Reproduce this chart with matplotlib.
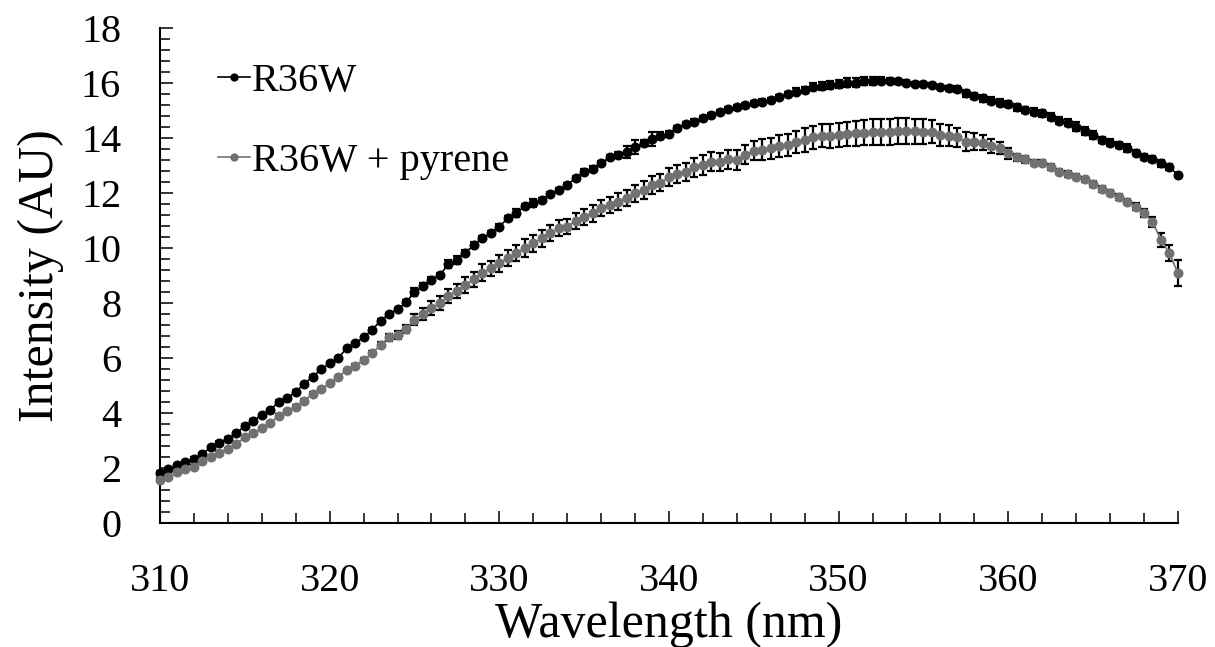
import numpy as np
import matplotlib
matplotlib.use("Agg")
import matplotlib.pyplot as plt
from matplotlib.ticker import MultipleLocator

plt.rcParams['font.family'] = ['Liberation Serif', 'DejaVu Serif']

# emission scan, 310-370 nm in 0.5 nm steps
wavelength = np.arange(310.0, 370.5, 0.5)

r36w = [
    1.83, 1.95, 2.10, 2.22, 2.34, 2.51, 2.76, 2.92, 3.07, 3.26,
    3.54, 3.72, 3.93, 4.11, 4.42, 4.54, 4.78, 5.06, 5.33, 5.59,
    5.81, 6.00, 6.36, 6.54, 6.76, 7.03, 7.36, 7.61, 7.78, 8.03,
    8.40, 8.63, 8.85, 9.02, 9.43, 9.57, 9.84, 10.12, 10.36, 10.55,
    10.79, 11.09, 11.27, 11.54, 11.64, 11.76, 11.98, 12.12, 12.30, 12.56,
    12.79, 12.90, 13.09, 13.31, 13.40, 13.52, 13.68, 13.84, 13.97, 14.10,
    14.16, 14.37, 14.52, 14.61, 14.73, 14.85, 14.97, 15.06, 15.13, 15.22,
    15.28, 15.34, 15.40, 15.50, 15.62, 15.70, 15.76, 15.88, 15.91, 15.94,
    15.98, 16.03, 16.03, 16.10, 16.10, 16.10, 16.10, 16.07, 16.03, 15.98,
    15.98, 15.94, 15.88, 15.82, 15.79, 15.64, 15.54, 15.46, 15.37, 15.30,
    15.25, 15.13, 15.03, 14.97, 14.91, 14.79, 14.65, 14.57, 14.43, 14.28,
    14.12, 13.94, 13.84, 13.76, 13.64, 13.48, 13.33, 13.24, 13.09, 12.95,
    12.67,
]
r36w_err = [
    0.05, 0.05, 0.05, 0.05, 0.05, 0.05, 0.05, 0.05, 0.05, 0.05,
    0.05, 0.05, 0.05, 0.05, 0.05, 0.05, 0.05, 0.05, 0.05, 0.05,
    0.05, 0.05, 0.05, 0.05, 0.05, 0.05, 0.05, 0.05, 0.05, 0.08,
    0.15, 0.10, 0.10, 0.08, 0.15, 0.15, 0.10, 0.10, 0.08, 0.08,
    0.08, 0.08, 0.15, 0.08, 0.15, 0.08, 0.08, 0.08, 0.08, 0.08,
    0.08, 0.08, 0.08, 0.08, 0.12, 0.22, 0.25, 0.10, 0.25, 0.12,
    0.10, 0.08, 0.08, 0.08, 0.08, 0.08, 0.08, 0.08, 0.08, 0.08,
    0.08, 0.08, 0.08, 0.08, 0.08, 0.12, 0.12, 0.12, 0.15, 0.15,
    0.15, 0.15, 0.15, 0.15, 0.15, 0.12, 0.10, 0.08, 0.08, 0.08,
    0.08, 0.08, 0.08, 0.08, 0.12, 0.12, 0.12, 0.12, 0.12, 0.12,
    0.10, 0.12, 0.12, 0.12, 0.12, 0.12, 0.12, 0.12, 0.15, 0.15,
    0.15, 0.10, 0.12, 0.12, 0.15, 0.10, 0.10, 0.10, 0.12, 0.10,
    0.08,
]

r36w_pyrene = [
    1.57, 1.66, 1.86, 1.95, 2.05, 2.25, 2.39, 2.56, 2.68, 2.88,
    3.12, 3.26, 3.45, 3.63, 3.91, 4.08, 4.23, 4.45, 4.70, 4.87,
    5.09, 5.30, 5.57, 5.72, 5.93, 6.18, 6.48, 6.76, 6.84, 7.07,
    7.39, 7.61, 7.82, 8.00, 8.26, 8.45, 8.66, 8.87, 9.11, 9.27,
    9.45, 9.64, 9.82, 10.00, 10.18, 10.36, 10.55, 10.73, 10.79, 11.00,
    11.13, 11.27, 11.46, 11.58, 11.70, 11.82, 12.00, 12.12, 12.30, 12.39,
    12.58, 12.70, 12.79, 12.95, 13.03, 13.15, 13.15, 13.24, 13.21, 13.40,
    13.55, 13.58, 13.64, 13.72, 13.76, 13.88, 13.94, 14.04, 14.09, 14.09,
    14.12, 14.16, 14.19, 14.21, 14.24, 14.24, 14.24, 14.26, 14.26, 14.26,
    14.24, 14.24, 14.12, 14.09, 14.04, 13.88, 13.88, 13.84, 13.72, 13.64,
    13.46, 13.31, 13.24, 13.12, 13.12, 12.95, 12.79, 12.70, 12.61, 12.51,
    12.34, 12.15, 12.02, 11.86, 11.70, 11.51, 11.27, 10.97, 10.30, 9.82,
    9.09,
]
r36w_pyrene_err = [
    0.05, 0.05, 0.05, 0.05, 0.05, 0.05, 0.05, 0.05, 0.05, 0.05,
    0.05, 0.05, 0.05, 0.05, 0.05, 0.05, 0.05, 0.05, 0.05, 0.05,
    0.05, 0.05, 0.05, 0.05, 0.08, 0.08, 0.10, 0.12, 0.15, 0.15,
    0.20, 0.22, 0.25, 0.25, 0.25, 0.25, 0.28, 0.28, 0.30, 0.28,
    0.30, 0.30, 0.30, 0.32, 0.30, 0.30, 0.30, 0.30, 0.28, 0.30,
    0.30, 0.30, 0.30, 0.30, 0.30, 0.30, 0.32, 0.32, 0.32, 0.32,
    0.33, 0.33, 0.33, 0.35, 0.35, 0.35, 0.33, 0.35, 0.35, 0.35,
    0.35, 0.38, 0.38, 0.40, 0.40, 0.40, 0.42, 0.42, 0.42, 0.45,
    0.45, 0.45, 0.45, 0.45, 0.48, 0.48, 0.48, 0.48, 0.48, 0.45,
    0.45, 0.42, 0.40, 0.38, 0.35, 0.35, 0.30, 0.28, 0.25, 0.22,
    0.20, 0.12, 0.12, 0.10, 0.10, 0.10, 0.10, 0.10, 0.10, 0.10,
    0.10, 0.10, 0.10, 0.10, 0.10, 0.12, 0.15, 0.18, 0.24, 0.30,
    0.48,
]

series = [
    ("R36W", r36w, r36w_err, "#000000"),
    ("R36W + pyrene", r36w_pyrene, r36w_pyrene_err, "#747070"),
]

fig = plt.figure(figsize=(12.15, 6.47), dpi=100)
ax = fig.add_axes([0.1317, 0.1917, 0.8378, 0.7643])

for label, vals, err, col in series:
    ax.errorbar(wavelength, vals, yerr=err, color=col, marker='o',
                markersize=6.2, linewidth=1.2, ecolor='black',
                elinewidth=1.6, capsize=3, capthick=1.6,
                label=label, clip_on=False, zorder=3)

ax.set_xlim(310, 370)
ax.set_ylim(0, 18)
ax.xaxis.set_major_locator(MultipleLocator(10))
ax.xaxis.set_minor_locator(MultipleLocator(2))
ax.yaxis.set_major_locator(MultipleLocator(2))
ax.yaxis.set_minor_locator(MultipleLocator(0.4))

for side in ('top', 'right'):
    ax.spines[side].set_visible(False)
for side in ('left', 'bottom'):
    ax.spines[side].set_linewidth(1.5)

ax.tick_params(which='major', direction='in', length=9, width=1.1, labelsize=29)
ax.tick_params(which='minor', direction='in', length=7, width=1.1)
ax.tick_params(axis='y', which='major', pad=28)
ax.tick_params(axis='x', which='major', pad=29)

ax.set_xlabel("Wavelength (nm)", fontsize=36, labelpad=1)
ax.set_ylabel("Intensity (AU)", fontsize=36, labelpad=12)

# error bar containers give a legend entry with marker and line only
handles, labels = ax.get_legend_handles_labels()
handles = [h[0] for h in handles]
ax.legend(handles, labels, loc='upper left', bbox_to_anchor=(0.057, 0.93),
          frameon=False, fontsize=29, handlelength=0.8, handletextpad=0.05,
          labelspacing=1.05, markerscale=0.8, borderpad=0, borderaxespad=0)

fig.savefig("out.png", dpi=100)
